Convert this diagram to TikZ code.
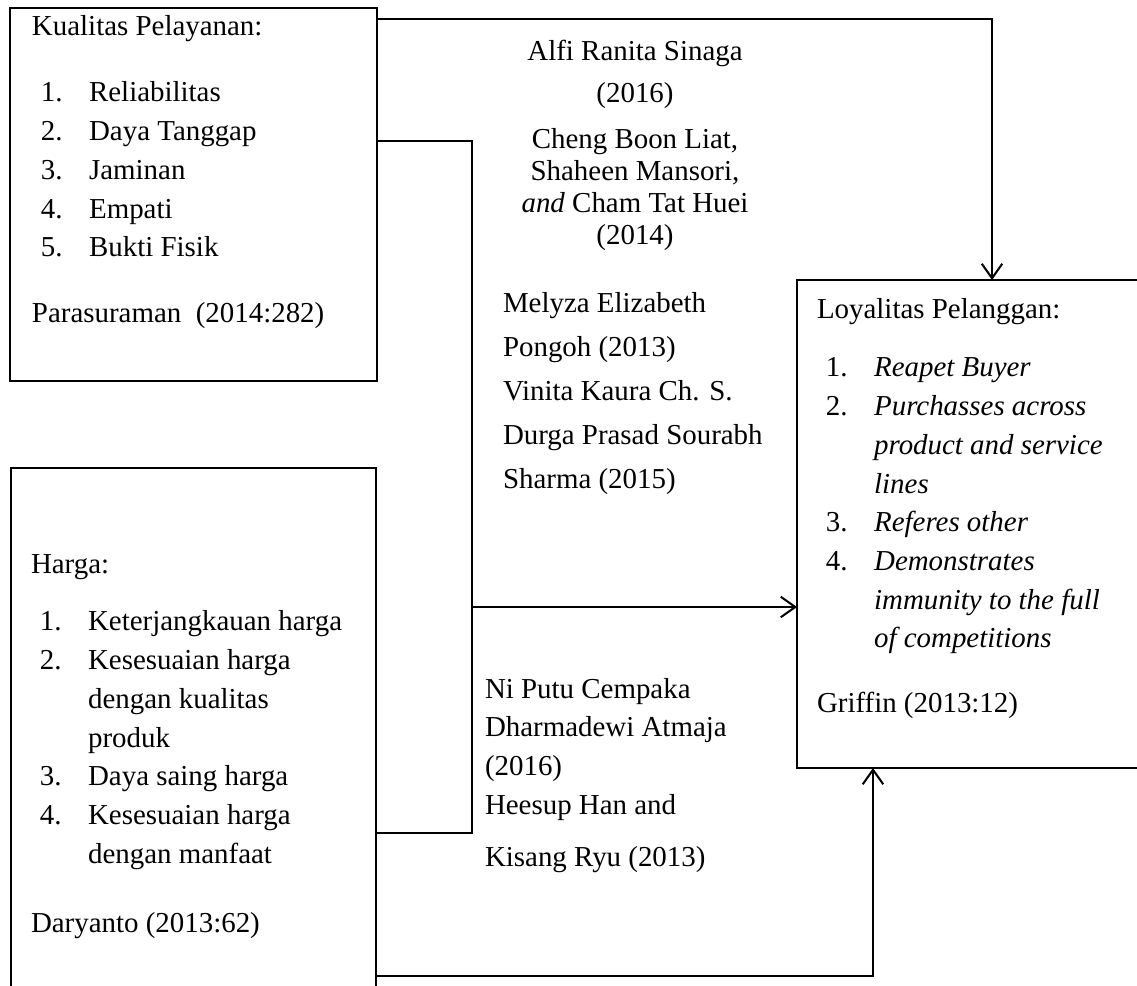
\documentclass[tikz,border=0pt]{standalone}
\usepackage{fontspec}
\setmainfont{Liberation Serif}
\usetikzlibrary{arrows.meta, calc, positioning}
\def\px{0.415pt}
\def\boxlinewidth{0.55pt}
\def\connlinewidth{0.85pt}
\def\listskip{16.06pt}
\def\numindent{3.7pt}
\def\textindent{23.7pt}
\newcommand{\numitem}[2]{\makebox[\textindent][l]{\hspace{\numindent}#1}#2}
\newcommand{\contline}[1]{\hspace{\textindent}#1}
\tikzset{
	% variable boxes
	panel/.style={
		draw,
		line width=\boxlinewidth,
		shape=rectangle,
		anchor=north west,
		inner sep=0pt,
		outer sep=0pt,
	},
	% texts
	txt/.style={
		font=\fontsize{12pt}{#1}\selectfont,
		inner sep=0pt,
		outer sep=0pt,
	},
	% plain connections
	line/.style={
		line width=\connlinewidth,
	},
	% connections with arrow
	connection/.style={
		line,
		-{Straight Barb[length=6pt,width=8.5pt]},
	}
}
\begin{document}
\begin{tikzpicture}[x=\px, y=-\px]
	\useasboundingbox (0,0) rectangle (1137,985);
	\clip (0,0) rectangle (1137,985);
	% boxes
	\node[
		panel,
		minimum width=367*\px,
		minimum height=373*\px
	] (kp) at (10,8) {};
	%
	\node[
		panel,
		minimum width=365*\px,
		minimum height=560*\px
	] (hg) at (11,468) {};
	%
	\node[
		panel,
		minimum width=360*\px,
		minimum height=488*\px
	] (lp) at (797,280) {};
	% box contents
	\node[
		txt=\listskip,
		anchor=base west
	] (kptext) at ([shift={(22,28)}]kp.north west) {%
		\begin{tabular}[t]{@{}l@{}}
			Kualitas Pelayanan:\\[11.3pt]
			\numitem{1.}{Reliabilitas}\\
			\numitem{2.}{Daya Tanggap}\\
			\numitem{3.}{Jaminan}\\
			\numitem{4.}{Empati}\\
			\numitem{5.}{Bukti Fisik}\\[11.3pt]
			Parasuraman\ \ (2014:282)
		\end{tabular}};
	%
	\node[
		txt=\listskip,
		anchor=base west
	] (hgtext) at ([shift={(20,105)}]hg.north west) {%
		\begin{tabular}[t]{@{}l@{}}
			Harga:\\[8pt]
			\numitem{1.}{Keterjangkauan harga}\\
			\numitem{2.}{Kesesuaian harga}\\
			\contline{dengan kualitas}\\
			\contline{produk}\\
			\numitem{3.}{Daya saing harga}\\
			\numitem{4.}{Kesesuaian harga}\\
			\contline{dengan manfaat}\\[12.5pt]
			Daryanto (2013:62)
		\end{tabular}};
	%
	\node[
		txt=\listskip,
		anchor=base west
	] (lptext) at ([shift={(20,38)}]lp.north west) {%
		\begin{tabular}[t]{@{}l@{}}
			Loyalitas Pelanggan:\\[8.4pt]
			\numitem{1.}{\textit{Reapet Buyer}}\\
			\numitem{2.}{\textit{Purchasses across}}\\
			\contline{\textit{product and service}}\\
			\contline{\textit{lines}}\\
			\numitem{3.}{\textit{Referes other}}\\
			\numitem{4.}{\textit{Demonstrates}}\\
			\contline{\textit{immunity to the full}}\\
			\contline{\textit{of competitions}}\\[10.9pt]
			Griffin (2013:12)
		\end{tabular}};
	% references between the boxes
	\node[
		txt=17.4pt,
		anchor=base
	] (alfi) at (635,61) {%
		\begin{tabular}[t]{@{}c@{}}
			Alfi Ranita Sinaga\\
			(2016)
		\end{tabular}};
	%
	\node[
		txt=13.3pt,
		anchor=base
	] (cheng) at (635,148) {%
		\begin{tabular}[t]{@{}c@{}}
			Cheng Boon Liat,\\
			Shaheen Mansori,\\
			\textit{and} Cham Tat Huei\\
			(2014)
		\end{tabular}};
	%
	\node[
		txt=18.3pt,
		anchor=base west
	] (melyza) at (503,312) {%
		\begin{tabular}[t]{@{}l@{}}
			Melyza Elizabeth\\
			Pongoh (2013)\\
			Vinita Kaura Ch. S.\\
			Durga Prasad Sourabh\\
			Sharma (2015)
		\end{tabular}};
	%
	\node[
		txt=\listskip,
		anchor=base west
	] (niputu) at (485,698) {%
		\begin{tabular}[t]{@{}l@{}}
			Ni Putu Cempaka\\
			Dharmadewi Atmaja\\
			(2016)\\
			Heesup Han and\\[5.5pt]
			Kisang Ryu (2013)
		\end{tabular}};
	% turning points
	\coordinate (topturn) at (992,19);
	\coordinate (kpout) at (472,141);
	\coordinate (hgout) at (472,833);
	\coordinate (split) at (472,607);
	\coordinate (botturn) at (873,976);
	% connections
	\draw[connection] (kp.east |- topturn) -- (topturn) -- (topturn |- lp.north);
	\draw[line] (kp.east |- kpout) -- (kpout) -- (hgout) -- (hg.east |- hgout);
	\draw[connection] (split) -- (split -| lp.west);
	\draw[connection] (hg.east |- botturn) -- (botturn) -- (botturn |- lp.south);
\end{tikzpicture}
\end{document}
